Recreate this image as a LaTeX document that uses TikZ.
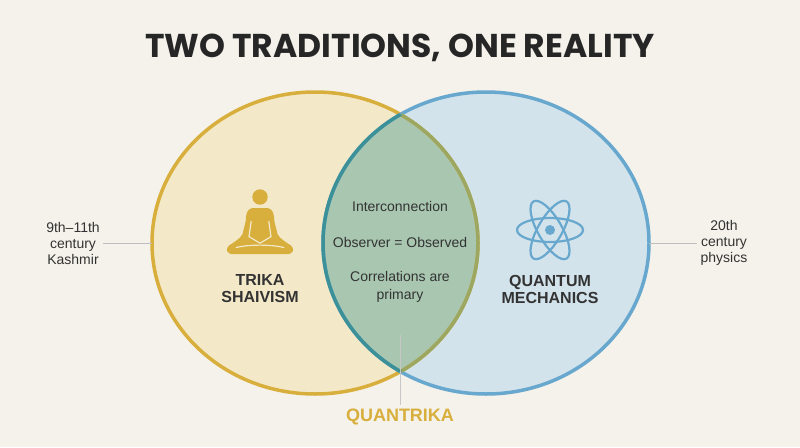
\documentclass[tikz,border=0pt]{standalone}
\usepackage{fontspec}
\setmainfont{Liberation Sans}
\newfontfamily\titlefont{Poppins}[UprightFont=* Bold]
\begin{document}
\begin{tikzpicture}[x=1pt,y=-1pt,
  lab/.style={font=\fontsize{14}{16}\selectfont, text=black!80, align=center},
  head/.style={font=\fontsize{16}{17}\selectfont\bfseries, text=black!80, align=center},
  gline/.style={draw=black!25, line width=1pt}]
\definecolor{bg}{HTML}{F4F2EA}
\definecolor{lfill}{HTML}{F3E8C8}
\definecolor{rfill}{HTML}{D3E3EB}
\definecolor{mfill}{HTML}{A8C6B0}
\definecolor{gold}{HTML}{D8AE3C}
\definecolor{blue}{HTML}{68A8CE}
\definecolor{olive}{HTML}{9CA862}
\definecolor{teal}{HTML}{3C9098}
\fill[bg] (0,0) rectangle (800,447);
\useasboundingbox (0,0) rectangle (800,447);
\coordinate (L) at (315,243);
\coordinate (R) at (486,243);
\def\LC{(L) ellipse (163 and 151)}
\def\RC{(R) ellipse (163 and 151)}
\fill[lfill] \LC;
\fill[rfill] \RC;
\begin{scope}\clip \LC; \fill[mfill] \RC;\end{scope}
\draw[gold, line width=3.5pt] \LC;
\draw[blue, line width=3.5pt] \RC;
\begin{scope}\clip \RC; \draw[olive, line width=3.5pt] \LC;\end{scope}
\begin{scope}\clip \LC; \draw[teal, line width=3.5pt] \RC;\end{scope}
\node[font=\fontsize{33}{35}\titlefont, text=black!85] (title) at (400,48) {TWO TRADITIONS, ONE REALITY};
% side labels
\node[lab] (lk) at (73,243) {9th–11th\\century\\Kashmir};
\node[lab] (rp) at (724,243) {20th\\century\\physics};
\coordinate (lk2) at (152,243);
\coordinate (rp2) at (649,243);
\draw[gline] (lk.east) -- (lk2);
\draw[gline] (rp2) -- (rp.west);
% center texts
\node[lab] (t1) at (400,206) {Interconnection};
\node[lab] (t2) at (400,242) {Observer = Observed};
\node[lab, font=\fontsize{14}{18}\selectfont] (t3) at (400,287) {Correlations are\\primary};
\node[head] (trika) at (260,289) {TRIKA\\SHAIVISM};
\node[head] (qm) at (550,289) {QUANTUM\\MECHANICS};
% meditating figure
\begin{scope}[shift={(260,230)}, scale=1.1]
\fill[gold] (0,-30) circle (7);
\fill[gold] (-7,-20) .. controls (-12,-19) and (-13,-14) .. (-13,-8) -- (-16,4) .. controls (-18,8) and (-25,12) .. (-28,14)
  .. controls (-32,17) and (-30,22) .. (-25,22) -- (25,22) .. controls (30,22) and (32,17) .. (28,14)
  .. controls (25,12) and (18,8) .. (16,4) -- (13,-8) .. controls (13,-14) and (12,-19) .. (7,-20) -- cycle;
\draw[lfill, line width=1.2pt] (-8,-8) -- (-10,6) -- (0,12) -- (10,6) -- (8,-8);
\draw[lfill, line width=1.2pt] (-22,16) .. controls (-10,13) and (10,13) .. (22,16);
\end{scope}
% atom
\begin{scope}[shift={(550,230)}, blue, line width=2.2pt]
\draw (0,0) ellipse (33 and 12);
\draw[rotate=60] (0,0) ellipse (33 and 12);
\draw[rotate=-60] (0,0) ellipse (33 and 12);
\fill (0,0) circle (5);
\end{scope}
% quantrika
\node[font=\fontsize{18}{19}\selectfont\bfseries, text=gold] (qk) at (400,417) {QUANTRIKA};
\coordinate (qtop) at (400,335);
\draw[draw=white!78!black, line width=1pt] (qtop) -- (qk.north);
\end{tikzpicture}
\end{document}
